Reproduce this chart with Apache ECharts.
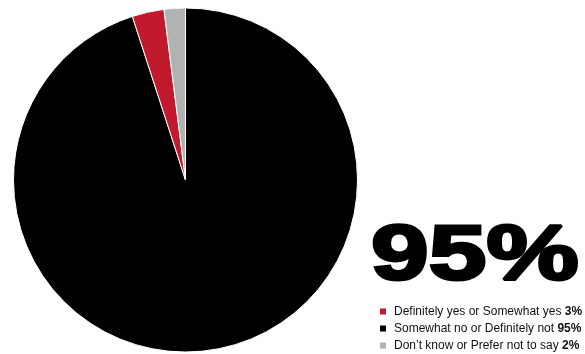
<!DOCTYPE html>
<html>
<head>
<meta charset="utf-8">
<script src="https://cdn.jsdelivr.net/npm/echarts@6/dist/echarts.min.js"></script>
<style>
  html, body { margin: 0; padding: 0; background: #fff; }
  #chart { width: 585px; height: 354px; }
</style>
</head>
<body>
<div id="chart"></div>
<script>
// Survey answers, drawn clockwise from 12 o'clock
const categories = [
  'Somewhat no or Definitely not',
  'Definitely yes or Somewhat yes',
  "Don\u2019t know or Prefer not to say"
];
const values = [95, 3, 2];
const legendOrder = [
  'Definitely yes or Somewhat yes',
  'Somewhat no or Definitely not',
  "Don\u2019t know or Prefer not to say"
];
const headline = '95%';

const palette = {
  'Somewhat no or Definitely not': '#000000',
  'Definitely yes or Somewhat yes': '#c01a2c',
  "Don\u2019t know or Prefer not to say": '#b2b2b2'
};

const valueOf = {};
categories.forEach((c, i) => { valueOf[c] = values[i]; });

const FONT = '"Liberation Sans", Arial, sans-serif';
const chart = echarts.init(document.getElementById('chart'), null, { renderer: 'canvas' });

chart.setOption({
  animation: false,
  backgroundColor: '#ffffff',
  legend: {
    data: legendOrder,
    orient: 'vertical',
    left: 378,
    top: 305,
    height: 50,
    padding: 0,
    itemWidth: 8,
    itemHeight: 8,
    itemGap: 4,
    icon: 'rect',
    selectedMode: false,
    textStyle: {
      fontFamily: FONT,
      fontSize: 12,
      color: '#111',
      lineHeight: 13,
      rich: {
        n: { fontFamily: FONT, fontSize: 12, color: '#111', lineHeight: 13, padding: [0, 0, 0, 2] },
        b: { fontFamily: FONT, fontSize: 12, fontWeight: 'bold', color: '#111', lineHeight: 13 }
      }
    },
    formatter: name => '{n|' + name + ' }{b|' + valueOf[name] + '%}'
  },
  graphic: [{
    type: 'text',
    x: 371,
    y: 296,
    scaleX: 1.33,
    style: {
      text: headline,
      font: 'bold 78px ' + FONT,
      fill: '#000',
      stroke: '#000',
      lineWidth: 3,
      verticalAlign: 'bottom'
    }
  }],
  series: [{
    type: 'pie',
    center: [185.5, 180],
    radius: 172,
    startAngle: 90,
    clockwise: true,
    label: { show: false },
    labelLine: { show: false },
    emphasis: { disabled: true },
    itemStyle: { borderColor: '#ffffff', borderWidth: 1 },
    data: categories.map((c, i) => ({
      name: c,
      value: values[i],
      itemStyle: { color: palette[c] }
    }))
  }]
});
</script>
</body>
</html>
